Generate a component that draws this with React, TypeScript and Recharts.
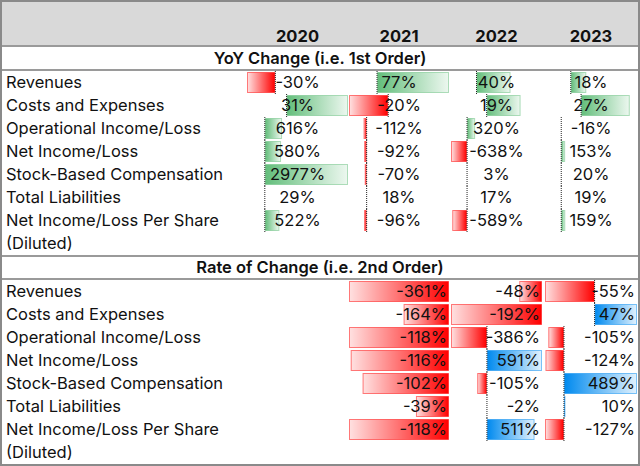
import { BarChart, Bar, XAxis, YAxis } from "recharts";

const years = ["2020", "2021", "2022", "2023"];
const metrics = [
  "Revenues",
  "Costs and Expenses",
  "Operational Income/Loss",
  "Net Income/Loss",
  "Stock-Based Compensation",
  "Total Liabilities",
  "Net Income/Loss Per Share",
];

// YoY change (1st order), one array per year
const yoy2020 = [-30, 31, 616, 580, 2977, 29, 522];
const yoy2021 = [77, -20, -112, -92, -70, 18, -96];
const yoy2022 = [40, 19, 320, -638, 3, 17, -589];
const yoy2023 = [18, 27, -16, 153, 20, 19, 159];

// Rate of change (2nd order), no 2020 column
const roc2021 = [-361, -164, -118, -116, -102, -39, -118];
const roc2022 = [-48, -192, -386, 591, -105, -2, 511];
const roc2023 = [-55, 47, -105, -124, 489, 10, -127];

const FONT = "Inter, 'Noto Sans', sans-serif";
const W = 640;
const H = 466;
const ROW = 23;
const COLS = [
  { x: 247, w: 101 },
  { x: 349, w: 100 },
  { x: 451, w: 91 },
  { x: 545, w: 92 },
];
const GREEN = "#63be7b";
const RED = "#ff0000";
const BLUE = "#008aef";

type Cell = { name: string; value: number; lo: number; hi: number };

// the excel data-bar ranges: which cells share one scale
const yoyCols = [yoy2020, yoy2021, yoy2022, yoy2023];
const rocCols: (number[] | null)[] = [null, roc2021, roc2022, roc2023];
const yoyGroup = (r: number, _c: number) => (r === 0 ? "rev" : r === 1 ? "cost" : "rest");
const rocGroup = (r: number, c: number) => `${c}${r < 2 ? "a" : "b"}`;

function buildCells(cols: (number[] | null)[], group: (r: number, c: number) => string) {
  const ext: Record<string, { lo: number; hi: number }> = {};
  cols.forEach((col, c) =>
    col?.forEach((v, r) => {
      const k = group(r, c);
      const e = ext[k] || { lo: 0, hi: 0 };
      ext[k] = { lo: Math.min(e.lo, v), hi: Math.max(e.hi, v) };
    })
  );
  return cols.map((col, c) =>
    col
      ? col.map((v, r) => ({ name: metrics[r], value: v, ...ext[group(r, c)] }))
      : null
  );
}

const yoyCells = buildCells(yoyCols, yoyGroup);
const rocCells = buildCells(rocCols, rocGroup);

const barRange = (d: Cell) => {
  const a = (0 - d.lo) / (d.hi - d.lo);
  const b = (d.value - d.lo) / (d.hi - d.lo);
  return [Math.min(a, b), Math.max(a, b)];
};

function DataBar(props: any) {
  const { x, y, width, height, payload, index, posColor, uid } = props;
  const neg = payload.value < 0;
  const color = neg ? RED : posColor;
  const axisX = neg ? x + width : x;
  const gid = `${uid}-${index}`;
  const showAxis = payload.lo < 0 && payload.hi > 0;
  return (
    <g>
      <defs>
        <linearGradient id={gid} x1={neg ? 1 : 0} y1={0} x2={neg ? 0 : 1} y2={0}>
          <stop offset="0%" stopColor={color} />
          <stop offset="100%" stopColor={color} stopOpacity={0.12} />
        </linearGradient>
      </defs>
      {width > 1 && (
        <rect
          x={x + 0.5}
          y={y + 0.5}
          width={width - 1}
          height={height - 1}
          fill={`url(#${gid})`}
          stroke={color}
          strokeOpacity={0.5}
        />
      )}
      {showAxis && (
        <line x1={axisX} x2={axisX} y1={y - 1} y2={y + height + 1} stroke="#222" strokeDasharray="1 1" />
      )}
    </g>
  );
}

function ColumnBars({ data, col, top, posColor, uid }: { data: Cell[]; col: number; top: number; posColor: string; uid: string }) {
  return (
    <div style={{ position: "absolute", left: COLS[col].x, top }}>
      <BarChart
        width={COLS[col].w}
        height={ROW * data.length}
        data={data}
        layout="vertical"
        margin={{ top: 0, right: 0, bottom: 0, left: 0 }}
        barCategoryGap={1}
      >
        <XAxis type="number" domain={[0, 1]} hide />
        <YAxis type="category" dataKey="name" hide />
        <Bar
          dataKey={barRange}
          barSize={21}
          isAnimationActive={false}
          shape={(p: any) => <DataBar {...p} posColor={posColor} uid={uid} />}
        />
      </BarChart>
    </div>
  );
}

const fmt = (v: number) => `${v}%`;

export default function App() {
  const yoyTop = 71;
  const rocTop = 280;
  const text = { position: "absolute" as const, height: ROW, lineHeight: `${ROW}px`, fontSize: 16.5, whiteSpace: "nowrap" as const };
  const hline = (y: number) => (
    <div style={{ position: "absolute", left: 0, top: y, width: W, height: 2, background: "#9a9a9a" }} />
  );
  return (
    <div style={{ position: "absolute", left: 0, top: 0, width: W, height: H, background: "#fff", fontFamily: FONT, color: "#111" }}>
      <div style={{ position: "absolute", left: 0, top: 0, width: W, height: 46, background: "#d9d9d9" }} />

      {yoyCells.map((d, c) =>
        d ? <ColumnBars key={`y${c}`} data={d} col={c} top={yoyTop} posColor={GREEN} uid={`y${c}`} /> : null
      )}
      {rocCells.map((d, c) =>
        d ? <ColumnBars key={`r${c}`} data={d} col={c} top={rocTop} posColor={BLUE} uid={`r${c}`} /> : null
      )}

      {years.map((y, c) => (
        <div key={y} style={{ ...text, top: 25, left: COLS[c].x, width: COLS[c].w, textAlign: "center", fontWeight: 700 }}>
          {y}
        </div>
      ))}
      {hline(45)}
      <div style={{ ...text, top: 47, left: 0, width: W, textAlign: "center", fontWeight: 600 }}>
        YoY Change (i.e. 1st Order)
      </div>
      {hline(69)}

      {metrics.map((m, r) => (
        <div key={`yl${r}`} style={{ ...text, top: yoyTop + r * ROW, left: 6 }}>{m}</div>
      ))}
      <div style={{ ...text, top: yoyTop + 7 * ROW, left: 6 }}>(Diluted)</div>
      {yoyCols.map((col, c) =>
        col.map((v, r) => (
          <div key={`yv${c}${r}`} style={{ ...text, top: yoyTop + r * ROW, left: COLS[c].x, width: COLS[c].w, textAlign: "center" }}>
            {fmt(v)}
          </div>
        ))
      )}

      {hline(255)}
      <div style={{ ...text, top: 256, left: 0, width: W, textAlign: "center", fontWeight: 600 }}>
        Rate of Change (i.e. 2nd Order)
      </div>
      {hline(278)}

      {metrics.map((m, r) => (
        <div key={`rl${r}`} style={{ ...text, top: rocTop + r * ROW, left: 6 }}>{m}</div>
      ))}
      <div style={{ ...text, top: rocTop + 7 * ROW, left: 6 }}>(Diluted)</div>
      {rocCols.map((col, c) =>
        col
          ? col.map((v, r) => (
              <div key={`rv${c}${r}`} style={{ ...text, top: rocTop + r * ROW, left: COLS[c].x, width: COLS[c].w - 2, textAlign: "right" }}>
                {fmt(v)}
              </div>
            ))
          : null
      )}

      <div style={{ position: "absolute", left: 0, top: 0, width: W - 4, height: H - 4, border: "2px solid #8a8a8a" }} />
    </div>
  );
}
